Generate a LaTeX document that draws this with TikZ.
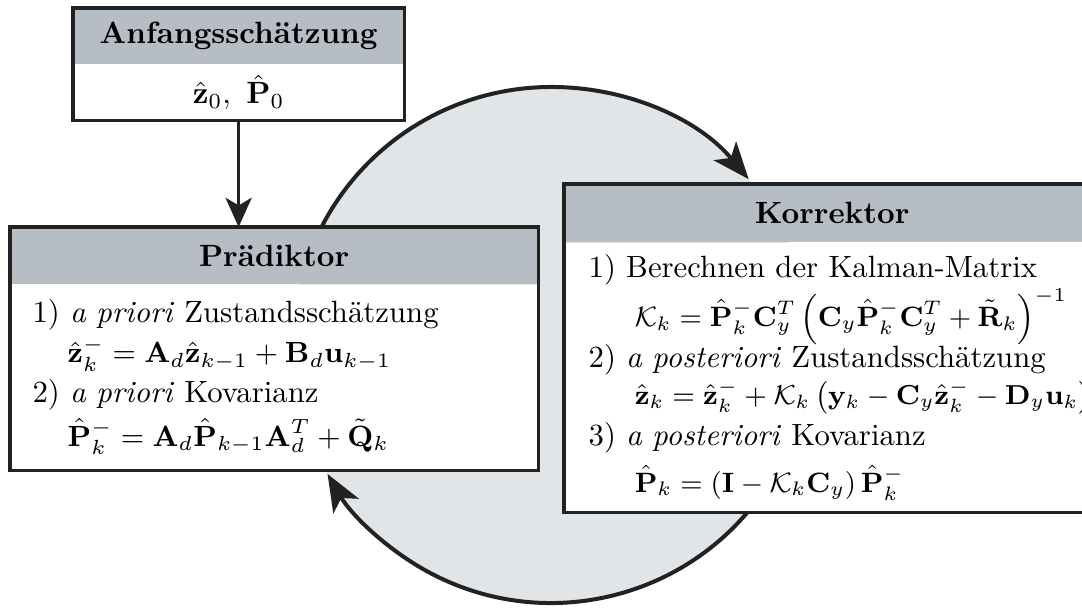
\RequirePackage{fix-cm}
\documentclass[tikz,border=0pt]{standalone}
\usepackage{amsmath,amsfonts}
\usepackage{xcolor}
\usepackage{tikz}
\usetikzlibrary{arrows.meta, positioning, calc}

\definecolor{headgray}{HTML}{B6BDC4}
\definecolor{cyclegray}{HTML}{E1E5E8}
\definecolor{linedark}{HTML}{222222}
\newcommand{\pxu}{0.325pt}
\newcommand{\eqn}[2]{{\fontsize{#1}{12}\selectfont$#2$}}

\begin{document}
\begin{tikzpicture}[
        x=\pxu, y=\pxu,
        headnode/.style={rectangle, fill=headgray, inner sep=0pt, font=\bfseries, anchor=north west},
        bodynode/.style={rectangle, fill=white, inner ysep=0pt, align=left},
        framebox/.style={draw=linedark, line width=1pt},
        flowarrow/.style={-{Stealth[length=9.5pt, width=8.5pt, inset=2.5pt]}, line width=1.1pt, color=linedark},
        cyclearrow/.style={-{Stealth[length=12pt, width=9.5pt, inset=3pt]}, line width=1.3pt, color=linedark}
    ]
        \useasboundingbox (0, 0) rectangle (1082, 608);

        % Cycle in the background
        \coordinate (cyc) at (551, 263);
        \fill[cyclegray] (cyc) circle[radius=258];
        \draw[cyclearrow] (cyc) ++(155:258) arc[start angle=155, end angle=40, radius=258];
        \draw[cyclearrow] (cyc) ++(-30:258) arc[start angle=-30, end angle=-150, radius=258];

        % Initial estimate
        \node[headnode, minimum width=330*\pxu, minimum height=55*\pxu] (inithead) at (73, 600) {Anfangsschätzung};
        \node[rectangle, fill=white, inner sep=0pt, minimum width=330*\pxu, minimum height=55*\pxu, below=0pt of inithead] (init) {$\hat{\mathbf{z}}_0,\ \hat{\mathbf{P}}_0$};
        \draw[framebox] (inithead.north west) rectangle (init.south east);

        % Predictor
        \node[headnode, minimum width=527*\pxu, minimum height=56*\pxu] (praedhead) at (10, 381) {Prädiktor};
        \node[bodynode, inner xsep=22*\pxu, text width=483*\pxu, minimum height=185*\pxu, below=0pt of praedhead] (praed) {%
            1) \textit{a priori} Zustandsschätzung\\[1pt]
            \hspace*{11.4pt}\eqn{9.5}{\hat{\mathbf{z}}_k^- = \mathbf{A}_d\hat{\mathbf{z}}_{k-1} + \mathbf{B}_d\mathbf{u}_{k-1}}\\[1pt]
            2) \textit{a priori} Kovarianz\\[2pt]
            \hspace*{11.4pt}\eqn{9.5}{\hat{\mathbf{P}}_k^- = \mathbf{A}_d\hat{\mathbf{P}}_{k-1}\mathbf{A}_d^T + \tilde{\mathbf{Q}}_k}};
        \draw[framebox] (praedhead.north west) rectangle (praed.south east);

        % Corrector
        \node[headnode, minimum width=535*\pxu, minimum height=57*\pxu] (korrhead) at (564, 424) {Korrektor};
        \node[bodynode, inner xsep=24*\pxu, text width=487*\pxu, minimum height=269*\pxu, below=0pt of korrhead] (korr) {%
            1) Berechnen der Kalman-Matrix\\[0.5pt]
            \hspace*{15pt}\mbox{\eqn{9.1}{\mathcal{K}_k = \hat{\mathbf{P}}_k^-\mathbf{C}_y^T\left(\mathbf{C}_y\hat{\mathbf{P}}_k^-\mathbf{C}_y^T + \tilde{\mathbf{R}}_k\right)^{-1}}}\\[-1pt]
            2) \textit{a posteriori} Zustandsschätzung\\
            \hspace*{15pt}\mbox{\eqn{8.9}{\hat{\mathbf{z}}_k = \hat{\mathbf{z}}_k^- + \mathcal{K}_k\left(\mathbf{y}_k - \mathbf{C}_y\hat{\mathbf{z}}_k^- - \mathbf{D}_y\mathbf{u}_k\right)}}\\[1.5pt]
            3) \textit{a posteriori} Kovarianz\\[3pt]
            \hspace*{15pt}\mbox{\eqn{9.1}{\hat{\mathbf{P}}_k = \left(\mathbf{I} - \mathcal{K}_k\mathbf{C}_y\right)\hat{\mathbf{P}}_k^-}}};
        \draw[framebox] (korrhead.north west) rectangle (korr.south east);

        % Connection
        \draw[flowarrow] (init.south) -- (init.south |- praedhead.north);
    \end{tikzpicture}
\end{document}
